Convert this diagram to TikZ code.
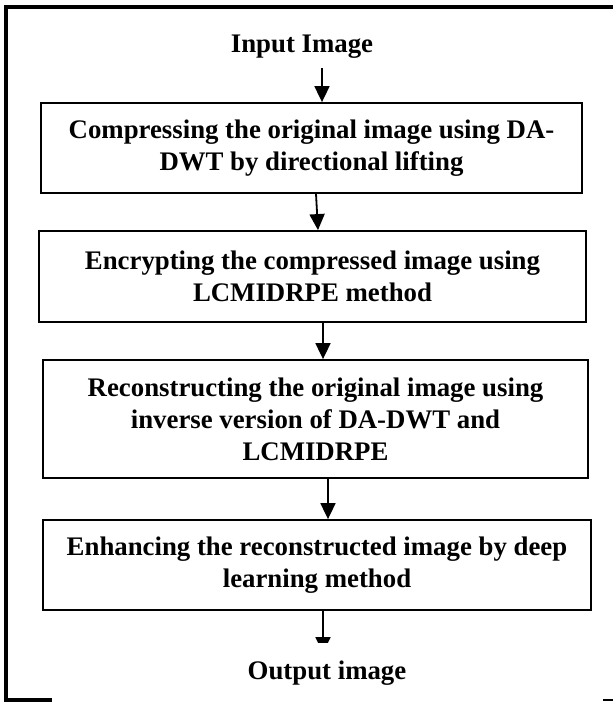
\documentclass[tikz,border=0pt]{standalone}
\usepackage{fontspec}
\setmainfont{Liberation Serif}
\usetikzlibrary{arrows.meta}
\tikzset{
  stepbox/.style={draw=black, line width=1.8pt, rectangle, inner sep=0pt, align=center,
    font=\fontsize{26.8}{32}\selectfont\bfseries},
  lbl/.style={inner sep=0pt, anchor=base, font=\fontsize{26.8}{32}\selectfont\bfseries},
  arr/.style={line width=1.8pt, -{Triangle[length=16pt,width=15pt]}},
  frame/.style={line width=3.2pt},
}
\begin{document}
\begin{tikzpicture}[x=1pt,y=-1pt]
\useasboundingbox (0,0) rectangle (613,702);
% frame
\coordinate (ftr) at (613,7);
\coordinate (ftl) at (6,7);
\coordinate (fbl) at (6,700);
\coordinate (fbm) at (50,700);
\coordinate (fbr1) at (603,700);
\coordinate (fbr2) at (613,700);
\draw[frame, line cap=rect] (ftr) -- (ftl) -- (fbl) -- (fbm);
\draw[line width=2.5pt] (fbr1) -- (fbr2);
% texts
\node[lbl] (in) at (302,52) {Input Image};
\node[lbl] (out) at (327,679) {Output image};
% boxes
\node[stepbox, minimum width=541pt, minimum height=90pt] (b1) at (311.5,148)
  {Compressing the original image using DA-\\DWT by directional lifting};
\node[stepbox, minimum width=547pt, minimum height=91pt] (b2) at (312.5,276.5)
  {Encrypting the compressed image using\\LCMIDRPE method};
\node[stepbox, minimum width=545pt, minimum height=118pt] (b3) at (315.5,419)
  {Reconstructing the original image using\\inverse version of DA-DWT and\\LCMIDRPE};
\node[stepbox, minimum width=548pt, minimum height=90pt] (b4) at (317,565)
  {Enhancing the reconstructed image by deep\\learning method};
% arrows
\coordinate (a1) at (322,68);
\draw[arr] (a1) -- (a1 |- b1.north);
\draw[arr] ([xshift=4.5pt]b1.south) -- ([xshift=5.5pt]b2.north);
\draw[arr] ([xshift=10.5pt]b2.south) -- ([xshift=7.5pt]b3.north);
\draw[arr] ([xshift=12.5pt]b3.south) -- ([xshift=11pt]b4.north);
\coordinate (a5) at (323,653);
\begin{scope}
\clip (0,0) rectangle (613,642);
\draw[arr] ([xshift=6pt]b4.south) -- (a5);
\end{scope}
\end{tikzpicture}
\end{document}
